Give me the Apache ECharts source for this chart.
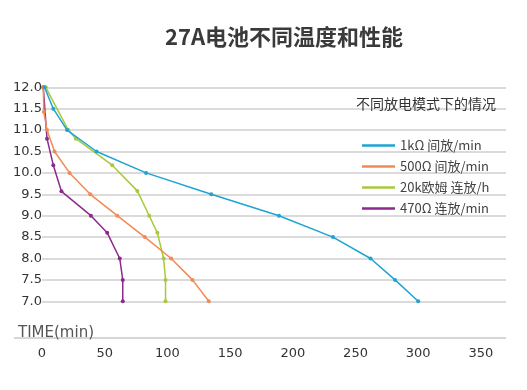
<!DOCTYPE html>
<html>
<head>
<meta charset="utf-8">
<script src="https://cdn.jsdelivr.net/npm/echarts@6/dist/echarts.min.js"></script>
<style>html,body{margin:0;padding:0;background:#fff;}#c{width:527px;height:390px;}</style>
</head>
<body>
<div id="c"></div>
<script>
const seriesNames = ['1kΩ 间放/min', '500Ω 间放/min', '20k欧姆 连放/h', '470Ω 连放/min'];
const colors = ['#1fa3d5', '#f28a55', '#a7c93d', '#8a2b8b'];

const blueT = [2, 9, 20, 43.5, 83, 135, 189, 232, 262, 281.5, 300];
const blueV = [12.0, 11.5, 11.0, 10.5, 10.0, 9.5, 9.0, 8.5, 8.0, 7.5, 7.0];

const orangeT = [1, 1.5, 4, 10, 22, 38.5, 60, 82, 103, 120, 133];
const orangeV = [12.0, 11.42, 11.0, 10.5, 10.0, 9.5, 9.0, 8.5, 8.0, 7.5, 7.0];

const greenT = [3, 21, 27, 56, 76, 85.5, 92, 97, 98.5, 98.5];
const greenV = [12.0, 11.0, 10.8, 10.18, 9.58, 9.0, 8.6, 8.0, 7.5, 7.0];

const purpleT = [1, 4, 9, 15.5, 39, 52, 62, 64.4, 64.4];
const purpleV = [12.0, 10.8, 10.18, 9.57, 9.0, 8.6, 8.0, 7.5, 7.0];

const xTicks = [0, 50, 100, 150, 200, 250, 300, 350];
const yTicks = [7.0, 7.5, 8.0, 8.5, 9.0, 9.5, 10.0, 10.5, 11.0, 11.5, 12.0];

const zip = (t, v) => t.map((x, i) => [x, v[i]]);
const allData = [zip(blueT, blueV), zip(orangeT, orangeV), zip(greenT, greenV), zip(purpleT, purpleV)];

const latin = "'DejaVu Sans', 'Noto Sans CJK SC', sans-serif";
const cjk = "'Noto Sans CJK SC', 'DejaVu Sans', sans-serif";

const chart = echarts.init(document.getElementById('c'), null, {renderer: 'canvas'});
chart.setOption({
  animation: false,
  backgroundColor: '#ffffff',
  title: [
    {text: '27A电池不同温度和性能', left: 160, top: 21,
     textStyle: {fontSize: 22, fontWeight: 'bold', color: '#3a3a3a', fontFamily: cjk}},
    {text: '不同放电模式下的情况', left: 351, top: 92,
     textStyle: {fontSize: 14, fontWeight: 'normal', color: '#333', fontFamily: cjk}},
    {text: 'TIME(min)', left: 13, top: 321,
     textStyle: {fontSize: 15, fontWeight: 'normal', color: '#555', fontFamily: latin}}
  ],
  legend: {
    orient: 'vertical', left: 357, top: 134,
    icon: 'rect', itemWidth: 33, itemHeight: 2.5, itemGap: 8,
    textStyle: {fontSize: 13, color: '#444', fontFamily: cjk, padding: [0, 0, 0, 0]},
    data: seriesNames
  },
  grid: {left: 42, right: 21, top: 87.3, bottom: 88.7, containLabel: false},
  xAxis: {
    type: 'value', min: 0, max: 370, interval: 50, offset: 36.5,
    axisLine: {show: false}, axisTick: {show: false}, splitLine: {show: false},
    axisLabel: {margin: 9, fontSize: 13, color: '#333', fontFamily: latin, showMaxLabel: false,
      formatter: v => xTicks.includes(v) ? String(v) : ''}
  },
  yAxis: {
    type: 'value', min: 7, max: 12, interval: 0.5,
    axisLine: {show: false}, axisTick: {show: false},
    splitLine: {show: true, lineStyle: {color: '#cfcfcf', width: 1.5}},
    axisLabel: {margin: 0, fontSize: 13, color: '#333', fontFamily: latin,
      formatter: v => yTicks.includes(v) ? v.toFixed(1) : ''}
  },
  graphic: [
    {type: 'line', shape: {x1: 14, y1: 338, x2: 506, y2: 338},
     style: {stroke: '#c8c8c8', lineWidth: 1.5}, silent: true}
  ],
  series: seriesNames.map((n, i) => ({
    name: n, type: 'line', data: allData[i],
    symbol: 'circle', symbolSize: 4, showSymbol: true,
    lineStyle: {color: colors[i], width: 1.5},
    itemStyle: {color: colors[i]},
    z: 10 - i
  }))
});
</script>
</body>
</html>
